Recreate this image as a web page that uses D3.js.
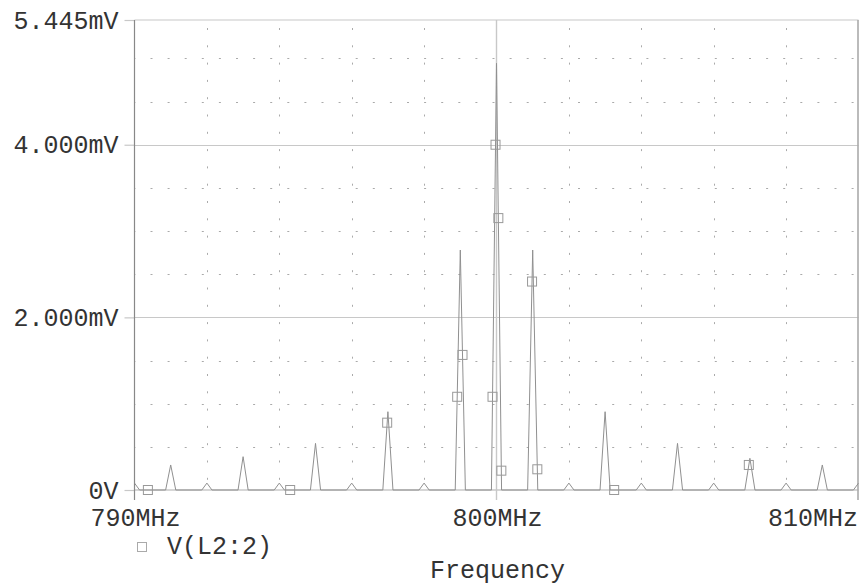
<!DOCTYPE html>
<html>
<head>
<meta charset="utf-8">
<script src="https://cdn.jsdelivr.net/npm/d3@7/dist/d3.min.js"></script>
<style>
  html, body { margin: 0; padding: 0; background: #fff; }
  svg { display: block; }
  text { font-family: "Liberation Mono", "Courier New", monospace; fill: #333; }
</style>
</head>
<body>
<svg id="chart" width="861" height="586"></svg>
<script>
// Spectrum of V(L2:2): one sampled peak per MHz line
const peakFreqMHz = [790, 791, 792, 793, 794, 795, 796, 797, 798, 799, 800,
                     801, 802, 803, 804, 805, 806, 807, 808, 809, 810];
const peakMilliVolts = [0.08, 0.29, 0.08, 0.386, 0.08, 0.54, 0.08, 0.907, 0.08, 2.78, 4.943,
                        2.78, 0.08, 0.907, 0.08, 0.54, 0.08, 0.367, 0.08, 0.29, 0.08];
// FFT bin spacing: each line falls to zero one bin either side
const binWidthMHz = 0.14;

// Trace symbols placed along the curve
const markerFreqMHz = [790.37, 794.30, 796.98, 798.914, 799.061, 799.89, 799.973,
                       800.051, 800.134, 800.982, 801.128, 803.25, 806.97];
const markerMilliVolts = [0, 0, 0.78, 1.08, 1.565, 1.08, 4.0,
                          3.15, 0.224, 2.415, 0.24, 0, 0.29];

const freqTicks = [790, 800, 810];
const freqTickLabels = ["790MHz", "800MHz", "810MHz"];
const voltTicks = [0, 2, 4, 5.445];
const voltTickLabels = ["0V", "2.000mV", "4.000mV", "5.445mV"];
const freqMinorGrid = [792, 794, 796, 798, 802, 804, 806, 808];
const voltMinorGrid = [0.5, 1, 1.5, 2.5, 3, 3.5, 4.5, 5];
const voltMajorGrid = [2, 4];

const seriesName = "V(L2:2)";
const xTitle = "Frequency";

const svg = d3.select("#chart");
const plotLeft = 134.5, plotRight = 858.5, plotTop = 20, plotBottom = 490;

const x = d3.scaleLinear().domain([790, 810]).range([plotLeft, plotRight]);
const y = d3.scaleLinear().domain([0, 5.445]).range([plotBottom, plotTop]);

// clip region for the trace
svg.append("defs").append("clipPath").attr("id", "plot-clip")
  .append("rect").attr("x", plotLeft).attr("y", plotTop - 2)
  .attr("width", plotRight - plotLeft).attr("height", plotBottom - plotTop + 4);

// dotted minor grid
const grid = svg.append("g");
grid.selectAll("line.vmin").data(freqMinorGrid).join("line")
  .attr("x1", d => Math.round(x(d)) + 0.5).attr("x2", d => Math.round(x(d)) + 0.5)
  .attr("y1", plotTop).attr("y2", plotBottom)
  .attr("stroke", "#aaa").attr("stroke-width", 1)
  .attr("stroke-dasharray", "2,15.3").attr("stroke-dashoffset", -8);
grid.selectAll("line.hmin").data(voltMinorGrid).join("line")
  .attr("x1", plotLeft).attr("x2", plotRight)
  .attr("y1", d => Math.round(y(d)) + 0.5).attr("y2", d => Math.round(y(d)) + 0.5)
  .attr("stroke", "#aaa").attr("stroke-width", 1)
  .attr("stroke-dasharray", "2,15.1").attr("stroke-dashoffset", -16);

// solid major grid
grid.selectAll("line.hmaj").data(voltMajorGrid).join("line")
  .attr("x1", plotLeft).attr("x2", plotRight)
  .attr("y1", d => Math.round(y(d)) + 0.5).attr("y2", d => Math.round(y(d)) + 0.5)
  .attr("stroke", "#c8c8c8").attr("stroke-width", 1.2);
grid.append("line")
  .attr("x1", plotLeft).attr("x2", plotRight)
  .attr("y1", y(5.445)).attr("y2", y(5.445))
  .attr("stroke", "#c8c8c8").attr("stroke-width", 1.2);
grid.append("line")
  .attr("x1", plotLeft).attr("x2", plotRight)
  .attr("y1", y(0)).attr("y2", y(0))
  .attr("stroke", "#c8c8c8").attr("stroke-width", 1.4);
grid.append("line")
  .attr("x1", x(800)).attr("x2", x(800))
  .attr("y1", plotTop).attr("y2", plotBottom + 10)
  .attr("stroke", "#c8c8c8").attr("stroke-width", 1.4);
grid.append("line")
  .attr("x1", x(810) - 0.5).attr("x2", x(810) - 0.5)
  .attr("y1", plotTop).attr("y2", plotBottom + 10)
  .attr("stroke", "#aaa").attr("stroke-width", 1.6);

// trace
const tracePts = [];
peakFreqMHz.forEach((f, i) => {
  tracePts.push([f - binWidthMHz, 0], [f, peakMilliVolts[i]], [f + binWidthMHz, 0]);
});
const line = d3.line().x(d => x(d[0])).y(d => y(d[1]));
svg.append("path")
  .attr("clip-path", "url(#plot-clip)")
  .attr("d", line(tracePts))
  .attr("fill", "none").attr("stroke", "#909090").attr("stroke-width", 1);

// trace symbols
svg.append("g").selectAll("rect").data(markerFreqMHz).join("rect")
  .attr("x", d => x(d) - 4.5)
  .attr("y", (d, i) => y(markerMilliVolts[i]) - 4.5)
  .attr("width", 9).attr("height", 9)
  .attr("fill", "none").attr("stroke", "#999").attr("stroke-width", 1);

// y axis
const yAxis = svg.append("g").attr("transform", `translate(${plotLeft},0)`)
  .call(d3.axisLeft(y).tickValues(voltTicks)
    .tickFormat((d, i) => voltTickLabels[i]).tickSize(10).tickPadding(6));
yAxis.select(".domain").remove();
yAxis.selectAll(".tick line").attr("stroke", "#c8c8c8").attr("stroke-width", 1.2);
yAxis.selectAll(".tick text").attr("font-size", 25).attr("font-family", null)
  .attr("fill", "#333");
svg.append("line")
  .attr("x1", plotLeft).attr("x2", plotLeft).attr("y1", plotTop).attr("y2", plotBottom + 10)
  .attr("stroke", "#888").attr("stroke-width", 1.2);

// x axis
const xAxis = svg.append("g").attr("transform", `translate(0,${plotBottom})`)
  .call(d3.axisBottom(x).tickValues(freqTicks)
    .tickFormat((d, i) => freqTickLabels[i]).tickSize(0).tickPadding(0));
xAxis.select(".domain").remove();
xAxis.selectAll(".tick text")
  .attr("font-size", 25).attr("font-family", null).attr("fill", "#333")
  .attr("dy", null).attr("y", 36)
  .attr("text-anchor", (d, i) => i === freqTicks.length - 1 ? "end" : "middle")
  .attr("x", (d, i) => i === freqTicks.length - 1 ? -1 : 0.5);

// legend
svg.append("rect").attr("x", 137.5).attr("y", 542.5).attr("width", 9).attr("height", 9)
  .attr("fill", "none").attr("stroke", "#aaa").attr("stroke-width", 1);
svg.append("text").attr("x", 167).attr("y", 554).attr("font-size", 25).text(seriesName);

// axis title
svg.append("text").attr("x", 497.5).attr("y", 578).attr("text-anchor", "middle")
  .attr("font-size", 25).text(xTitle);
</script>
</body>
</html>
